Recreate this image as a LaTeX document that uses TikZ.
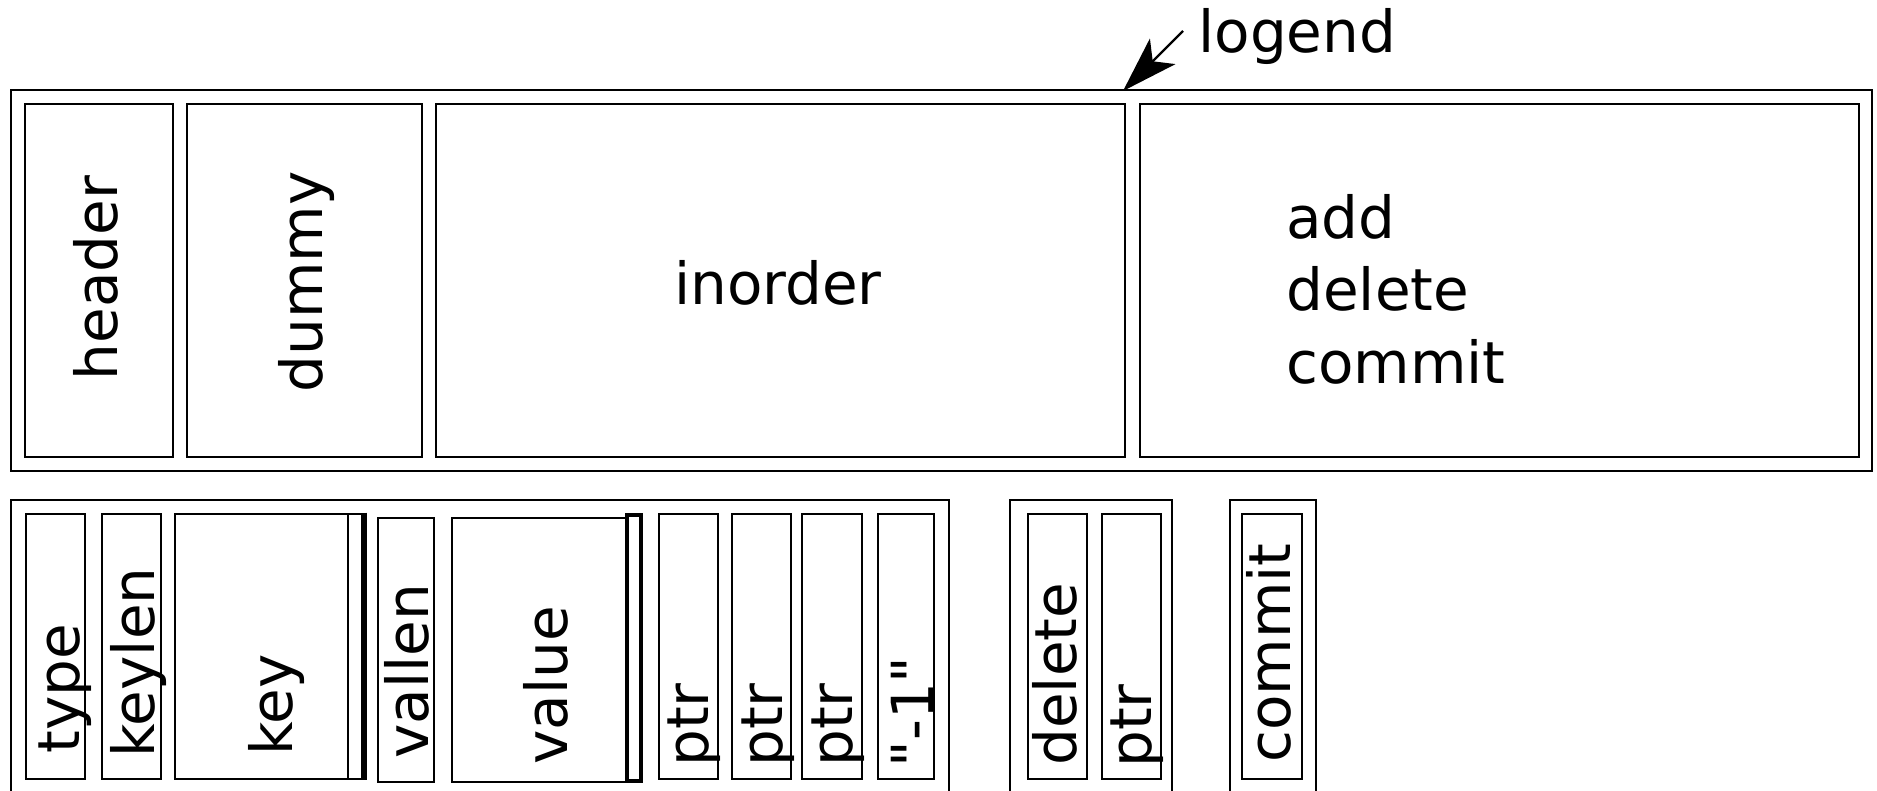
\documentclass[tikz,border=0pt]{standalone}
\usepackage{fontspec}
\setmainfont{DejaVu Sans}
\newfontfamily\rawfont{DejaVu Sans}
\usetikzlibrary{fit,arrows.meta}
\newcommand\lblfont{\fontsize{29}{36.25}\selectfont}
\begin{document}
\begin{tikzpicture}[x=0.5pt,y=-0.5pt,
  cell/.style={draw,line width=1.4pt,inner sep=0pt,rectangle},
  thincell/.style={draw,line width=1pt,inner sep=0pt,rectangle},
  vlab/.style={rotate=90,inner sep=0pt,font=\lblfont},
  hlab/.style={inner sep=0pt,font=\lblfont}]
\useasboundingbox (0,0) rectangle (1877,791);
\clip (0,0) rectangle (1877,791);
% upper log
\node[cell,fit={(11,90) (1872,471)}] (log) {};
\node[cell,fit={(25,104) (173,457)}] (header) {};
\node[cell,fit={(187,104) (422,457)}] (dummy) {};
\node[cell,fit={(436,104) (1125,457)}] (inorder) {};
\node[cell,fit={(1140,104) (1859,457)}] (ops) {};
\node[vlab,anchor=base] (theader) at (117,278) {header};
\node[vlab,anchor=base] (tdummy) at (322,282) {dummy};
\node[hlab,anchor=base] (tinorder) at (778,304) {inorder};
\node[hlab,anchor=north west,align=left] (tops) at (1286,194) {add\\delete\\commit};
% logend pointer
\node[hlab,anchor=base west] (logend) at (1198,53) {logend};
\coordinate (logtail) at (1183,31);
\coordinate (logtip) at (1123,91);
\draw[line width=1.2pt,-{Stealth[length=28pt,width=18pt,inset=7pt]}] (logtail) -- (logtip);
% record layout
\node[cell,fit={(11,500) (949,830)}] (rec) {};
\node[cell,fit={(26,514) (85,779)}] (type) {};
\node[cell,fit={(102,514) (161,779)}] (keylen) {};
\node[cell,fit={(175,514) (363,779)}] (key) {};
\draw[line width=1.4pt] (348,514) -- (348,779);
\draw[line width=3pt] (key.north east) -- (key.south east);
\node[cell,fit={(378,518) (434,782)}] (vallen) {};
\node[cell,fit={(452,518) (627,782)}] (value) {};
\node[draw,line width=2.2pt,inner sep=0pt,fit={(627,515) (641,781)}] (valend) {};
\node[cell,fit={(659,514) (718,779)}] (ptra) {};
\node[cell,fit={(732,514) (791,779)}] (ptrb) {};
\node[cell,fit={(802,514) (862,779)}] (ptrc) {};
\node[cell,fit={(878,514) (934,779)}] (endmark) {};
\node[vlab,anchor=base west] (ttype) at (79,754) {type};
\node[vlab,anchor=base west] (tkeylen) at (154,758) {keylen};
\node[vlab,anchor=base west] (tkey) at (292,756) {key};
\node[vlab,anchor=base west] (tvallen) at (428,759) {vallen};
\node[vlab,anchor=base west] (tvalue) at (567,765) {value};
\node[vlab,anchor=base west] (tptra) at (708,767) {ptr};
\node[vlab,anchor=base west] (tptrb) at (782,767) {ptr};
\node[vlab,anchor=base west] (tptrc) at (852,767) {ptr};
\node[vlab,anchor=base west,font=\rawfont\lblfont] (tend) at (933,768) {"-1"};
% delete record
\node[cell,fit={(1010,500) (1172,830)}] (delrec) {};
\node[cell,fit={(1028,514) (1087,779)}] (delop) {};
\node[cell,fit={(1102,514) (1161,779)}] (delptr) {};
\node[vlab,anchor=base west] (tdelop) at (1076,766) {delete};
\node[vlab,anchor=base west] (tdelptr) at (1151,768) {ptr};
% commit record
\node[thincell,fit={(1230,500) (1316,830)}] (comrec) {};
\node[cell,fit={(1242,514) (1302,779)}] (comop) {};
\node[vlab,anchor=base west] (tcomop) at (1290,763) {commit};
\end{tikzpicture}
\end{document}
